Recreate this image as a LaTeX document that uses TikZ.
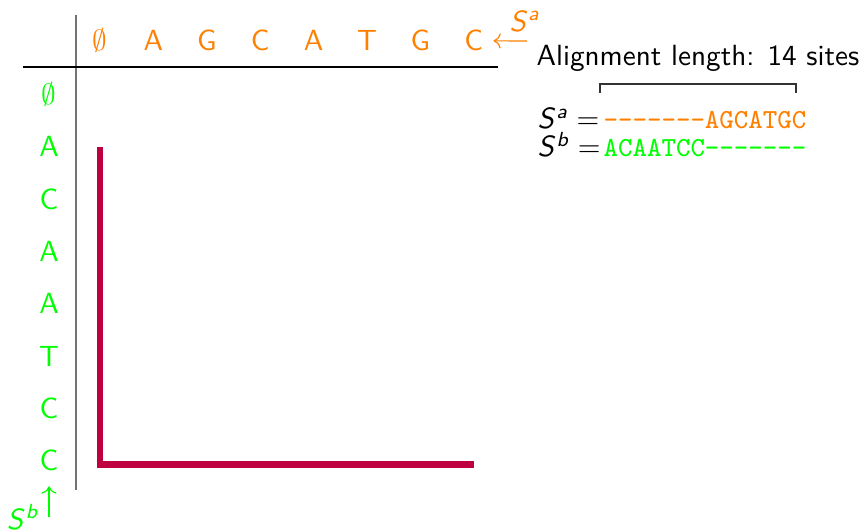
\documentclass[tikz,border=0pt]{standalone}
\usepackage{tikz}
\usetikzlibrary{arrows.meta, positioning, calc}
\renewcommand{\familydefault}{\sfdefault}
\DeclareMathAlphabet{\mathssi}{OT1}{cmss}{m}{it}
\newcommand{\seqvar}[1]{\mathssi{S}^{\mathssi{#1}}}
\newcommand{\gp}{\string-}

\begin{document}
\begin{tikzpicture}[x=0.01204cm, y=-0.01204cm,
  hdra/.style={text=orange, anchor=base},
  hdrb/.style={text=green, anchor=base},
  trace/.style={purple, line width=2.2pt},
  rule/.style={line width=0.45pt},
  seqtxt/.style={anchor=base west, inner sep=0, font=\fontsize{9.45}{11}\ttfamily}
]
\useasboundingbox (0,0) rectangle (865,531);

% sequence a along the top, sequence b down the side
\foreach \c [count=\i from 0] in {$\emptyset$,A,G,C,A,T,G,C}
  \node[hdra] (a\i) at (100+53.4*\i,51) {\c};
\foreach \c [count=\j from 0] in {$\emptyset$,A,C,A,A,T,C,C}
  \node[hdrb] (b\j) at (49,104.6+52.3*\j) {\c};

\draw[gray!90!black, line width=0.7pt] (76,15) -- (76,490);
\draw[rule] (23,67) -- (498,67);

% traceback path
\draw[trace] (a0 |- b1) -- ($(a0 |- b7)+(0,4)$) -- ($(a7 |- b7)+(0,4)$);

% sequence names
\node[text=orange] (sa) at (525,21) {$\seqvar{a}$};
\coordinate (sa-foot) at (527,41);
\draw[orange, ->] (sa-foot) -- (a7.east);
\node[text=green] (sb) at (23,517) {$\seqvar{b}$};
\coordinate (sb-foot) at (49,517);
\draw[green, ->, shorten >=1.7pt] (sb-foot) -- (b7.south);

% resulting alignment
\node[anchor=base west, inner sep=0] (len) at (536,66) {Alignment length: 14 sites};
\node[anchor=base west, inner sep=0] (eqa) at (537,129) {$\seqvar{a} =$};
\node[anchor=base west, inner sep=0] (eqb) at (537,157) {$\seqvar{b} =$};
\node[seqtxt, text=orange] (seqa) at (603,129) {\gp\gp\gp\gp\gp\gp\gp AGCATGC};
\node[seqtxt, text=green] (seqb) at (603,157) {ACAATCC\gp\gp\gp\gp\gp\gp\gp};
\draw[rule, black!80] ($(seqa.base west)+(-3,-36)$) -- ++(0,-9) -- ++(196,0) -- ++(0,9);
\end{tikzpicture}
\end{document}
